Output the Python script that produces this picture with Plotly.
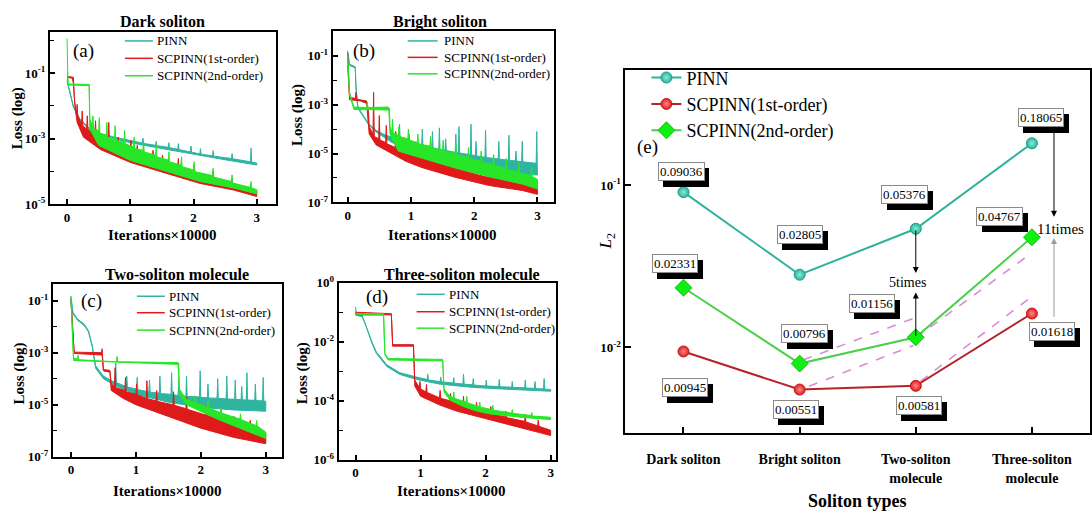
import numpy as np
import plotly.graph_objects as go

W, H = 1092, 518
FONT = "Liberation Serif, Times New Roman, serif"
TEAL = "#2fb4a0"
RED = "#de1a1a"
GREEN = "#27e627"

SERIES_NAMES = ["PINN", "SCPINN(1st-order)", "SCPINN(2nd-order)"]

# ---------------- Loss curves: (iterations x 10000, log10(loss)) ----------------
# lower outline (lo) and upper outline incl. spikes (hi) of each noisy curve
a_pinn_lo = [(0,-1.25),(0.05,-1.63),(0.1,-2.03),(0.2,-2.42),(0.35,-2.72),(0.5,-2.87),(0.75,-3.0),(1.0,-3.12),(1.5,-3.3),(2.0,-3.48),(2.5,-3.64),(3.0,-3.8)]
a_pinn_hi = [(0,-1.2),(0.05,-1.6),(0.1,-2.0),(0.2,-2.38),(0.35,-2.68),(0.5,-2.82),(0.75,-2.95),(1.0,-3.06),(1.19,-3.13),(1.2,-2.98),(1.21,-3.14),(1.4,-3.2),(1.41,-3.08),(1.42,-3.21),(1.6,-3.26),(1.61,-3.12),(1.62,-3.27),(1.75,-3.32),(1.76,-3.15),(1.77,-3.33),(1.95,-3.4),(1.96,-3.22),(1.97,-3.41),(2.1,-3.46),(2.11,-3.3),(2.12,-3.47),(2.3,-3.52),(2.31,-3.36),(2.32,-3.53),(2.6,-3.6),(2.61,-3.45),(2.62,-3.61),(2.9,-3.7),(2.91,-3.28),(2.92,-3.71),(3.0,-3.74)]
a_red_lo = [(0,-1.13),(0.08,-1.15),(0.1,-1.3),(0.13,-2.1),(0.16,-2.5),(0.26,-2.95),(0.53,-3.33),(1.0,-3.72),(1.58,-4.06),(2.1,-4.36),(2.63,-4.56),(3.0,-4.76)]
a_red_hi = [(0,-1.1),(0.1,-1.12),(0.12,-1.9),(0.15,-2.25),(0.16,-1.95),(0.17,-2.3),(0.23,-2.55),(0.24,-2.15),(0.25,-2.6),(0.31,-2.7),(0.32,-2.3),(0.33,-2.72),(0.44,-2.85),(0.45,-2.45),(0.46,-2.87),(0.65,-3.0),(0.66,-2.5),(0.67,-3.02),(0.8,-3.15),(0.81,-2.95),(0.82,-3.17),(1.0,-3.32),(1.01,-3.05),(1.02,-3.34),(1.1,-3.4),(1.11,-3.2),(1.12,-3.42),(1.35,-3.58),(1.36,-3.35),(1.37,-3.6),(1.5,-3.7),(1.51,-3.5),(1.52,-3.72),(1.75,-3.85),(1.76,-3.6),(1.77,-3.87),(2.0,-4.0),(2.01,-3.8),(2.02,-4.02),(2.3,-4.18),(2.31,-4.0),(2.32,-4.2),(2.6,-4.35),(2.61,-4.2),(2.62,-4.37),(3.0,-4.6)]
a_green_lo = [(0,-1.3),(0.02,-1.36),(0.35,-1.38),(0.36,-2.7),(0.5,-3.2),(1.0,-3.66),(1.58,-4.0),(2.1,-4.3),(2.63,-4.5),(3.0,-4.68)]
a_green_hi = [(0,0.06),(0.01,-0.9),(0.02,-1.33),(0.35,-1.34),(0.36,-2.4),(0.4,-2.6),(0.41,-2.3),(0.42,-2.7),(0.5,-2.75),(0.51,-2.35),(0.52,-2.85),(0.62,-2.9),(0.63,-2.5),(0.64,-2.95),(0.75,-3.0),(0.76,-2.6),(0.77,-3.05),(0.9,-3.1),(0.91,-2.75),(0.92,-3.15),(1.05,-3.25),(1.06,-2.95),(1.07,-3.3),(1.2,-3.35),(1.21,-3.05),(1.22,-3.4),(1.4,-3.5),(1.41,-3.2),(1.42,-3.55),(1.6,-3.65),(1.61,-3.4),(1.62,-3.7),(1.8,-3.8),(1.81,-3.55),(1.82,-3.85),(2.0,-3.95),(2.01,-3.7),(2.02,-4.0),(2.3,-4.12),(2.31,-3.9),(2.32,-4.17),(2.6,-4.3),(2.61,-4.1),(2.62,-4.35),(2.9,-4.48),(2.91,-4.3),(2.92,-4.5),(3.0,-4.55)]

b_pinn_lo = [(0,-0.87),(0.03,-1.4),(0.12,-1.5),(0.13,-2.3),(0.16,-3.15),(0.21,-3.35),(0.34,-3.85),(0.45,-4.12),(0.7,-4.55),(1.0,-4.9),(1.5,-5.35),(2.0,-5.6),(2.5,-5.78),(3.0,-5.88)]
b_pinn_hi = [(0,-0.8),(0.03,-1.35),(0.12,-1.45),(0.13,-2.2),(0.16,-3.05),(0.21,-3.3),(0.34,-3.8),(0.45,-4.05),(0.6,-4.25),(0.81,-4.4),(0.82,-3.8),(0.83,-4.42),(0.96,-4.5),(0.97,-4.2),(0.98,-4.55),(1.17,-4.65),(1.18,-4.0),(1.19,-4.67),(1.33,-4.75),(1.34,-4.1),(1.35,-4.77),(1.44,-4.82),(1.45,-3.95),(1.46,-4.83),(1.54,-4.87),(1.55,-4.4),(1.56,-4.88),(1.7,-4.95),(1.71,-4.2),(1.72,-4.96),(1.75,-4.97),(1.76,-3.9),(1.77,-4.98),(1.94,-5.05),(1.95,-3.8),(1.96,-5.06),(2.02,-5.08),(2.03,-4.5),(2.04,-5.1),(2.17,-5.15),(2.18,-4.05),(2.19,-5.16),(2.38,-5.22),(2.39,-4.5),(2.4,-5.23),(2.54,-5.27),(2.55,-4.25),(2.56,-5.28),(2.65,-5.3),(2.66,-4.9),(2.67,-5.31),(2.75,-5.33),(2.76,-4.5),(2.77,-5.34),(2.98,-5.4),(2.99,-4.1),(3.0,-5.45)]
b_red_lo = [(0,-1.4),(0.03,-2.8),(0.2,-2.85),(0.3,-2.95),(0.34,-4.2),(0.45,-4.65),(0.66,-4.95),(0.92,-5.32),(1.18,-5.58),(1.71,-5.98),(2.24,-6.31),(2.76,-6.51),(3.0,-6.67)]
b_red_hi = [(0,-0.9),(0.01,-1.3),(0.03,-2.7),(0.12,-2.75),(0.13,-2.5),(0.14,-2.78),(0.2,-2.8),(0.3,-2.85),(0.33,-3.3),(0.34,-3.9),(0.4,-4.2),(0.41,-2.5),(0.42,-4.3),(0.49,-4.4),(0.5,-3.45),(0.51,-4.45),(0.6,-4.55),(0.61,-3.85),(0.62,-4.6),(0.75,-4.75),(0.76,-4.1),(0.77,-4.8),(0.96,-5.0),(0.97,-4.4),(0.98,-5.05),(1.3,-5.3),(1.31,-4.8),(1.32,-5.32),(1.7,-5.6),(1.71,-5.1),(1.72,-5.62),(2.1,-5.9),(2.11,-5.4),(2.12,-5.92),(2.5,-6.1),(2.51,-5.7),(2.52,-6.12),(2.8,-6.25),(2.81,-5.85),(2.82,-6.27),(3.0,-6.4)]
b_green_lo = [(0,-1.3),(0.03,-2.6),(0.07,-2.95),(0.1,-3.2),(0.65,-3.22),(0.67,-4.2),(0.8,-4.9),(1.18,-5.2),(1.71,-5.6),(2.24,-5.95),(2.76,-6.25),(3.0,-6.45)]
b_green_hi = [(0,-0.95),(0.03,-2.5),(0.07,-2.85),(0.1,-3.1),(0.3,-3.12),(0.31,-2.9),(0.32,-3.12),(0.64,-3.1),(0.66,-3.15),(0.67,-3.9),(0.7,-4.1),(0.71,-3.6),(0.72,-4.15),(0.8,-4.25),(0.81,-3.9),(0.82,-4.3),(0.95,-4.4),(0.96,-4.0),(0.97,-4.45),(1.1,-4.55),(1.11,-4.2),(1.12,-4.6),(1.3,-4.7),(1.31,-4.3),(1.32,-4.75),(1.5,-4.85),(1.51,-4.45),(1.52,-4.9),(1.7,-5.0),(1.71,-4.6),(1.72,-5.05),(1.9,-5.15),(1.91,-4.75),(1.92,-5.2),(2.1,-5.3),(2.11,-4.9),(2.12,-5.35),(2.3,-5.45),(2.31,-5.05),(2.32,-5.5),(2.5,-5.6),(2.51,-5.2),(2.52,-5.65),(2.7,-5.75),(2.71,-5.4),(2.72,-5.8),(2.9,-5.9),(2.91,-5.55),(2.92,-5.95),(3.0,-6.05)]

c_pinn_lo = [(0,-0.88),(0.03,-1.5),(0.1,-1.75),(0.2,-1.95),(0.27,-2.2),(0.33,-2.8),(0.38,-3.6),(0.5,-4.0),(0.7,-4.3),(1.0,-4.6),(1.5,-4.9),(2.0,-5.1),(2.5,-5.2),(3.0,-5.25)]
c_pinn_hi = [(0,-0.82),(0.03,-1.45),(0.1,-1.7),(0.2,-1.9),(0.27,-2.15),(0.33,-2.75),(0.38,-3.5),(0.5,-3.9),(0.68,-4.15),(0.69,-3.4),(0.7,-4.15),(0.85,-4.3),(0.86,-3.9),(0.87,-4.32),(1.01,-4.4),(1.02,-3.95),(1.03,-4.42),(1.2,-4.5),(1.21,-4.05),(1.22,-4.52),(1.36,-4.55),(1.37,-3.9),(1.38,-4.57),(1.54,-4.6),(1.55,-3.77),(1.56,-4.62),(1.65,-4.64),(1.66,-4.1),(1.67,-4.65),(1.77,-4.67),(1.78,-3.9),(1.79,-4.68),(1.98,-4.7),(1.99,-3.7),(2.0,-4.72),(2.1,-4.73),(2.11,-4.2),(2.12,-4.74),(2.25,-4.75),(2.26,-4.0),(2.27,-4.76),(2.39,-4.77),(2.4,-3.9),(2.41,-4.78),(2.52,-4.79),(2.53,-4.05),(2.54,-4.8),(2.62,-4.8),(2.63,-4.3),(2.64,-4.81),(2.7,-4.82),(2.71,-3.77),(2.72,-4.82),(2.83,-4.83),(2.84,-4.2),(2.85,-4.84),(2.95,-4.85),(2.96,-3.95),(2.97,-4.86),(3.0,-4.87)]
c_red_lo = [(0,-1.0),(0.05,-3.03),(0.48,-3.09),(0.5,-3.7),(0.6,-3.75),(0.62,-4.45),(0.8,-4.75),(1.0,-5.0),(1.5,-5.45),(2.0,-5.9),(2.5,-6.25),(3.0,-6.5)]
c_red_hi = [(0,-0.95),(0.05,-2.98),(0.47,-3.0),(0.48,-2.85),(0.49,-3.05),(0.5,-3.65),(0.6,-3.68),(0.62,-4.2),(0.67,-4.3),(0.68,-3.58),(0.69,-4.35),(0.83,-4.45),(0.84,-3.95),(0.85,-4.5),(1.0,-4.6),(1.01,-4.2),(1.02,-4.62),(1.16,-4.75),(1.17,-4.08),(1.18,-4.77),(1.31,-4.85),(1.32,-4.45),(1.33,-4.87),(1.57,-5.0),(1.58,-4.5),(1.59,-5.02),(1.77,-5.15),(1.78,-4.7),(1.79,-5.17),(2.08,-5.4),(2.09,-5.05),(2.1,-5.42),(2.3,-5.55),(2.31,-5.2),(2.32,-5.57),(2.5,-5.7),(2.51,-5.45),(2.52,-5.72),(2.75,-5.9),(2.76,-5.6),(2.77,-5.92),(3.0,-6.1)]
c_green_lo = [(0,-0.9),(0.04,-3.3),(1.65,-3.45),(1.67,-4.6),(1.78,-5.0),(2.0,-5.25),(2.25,-5.55),(2.5,-5.8),(2.75,-6.05),(3.0,-6.3)]
c_green_hi = [(0,-0.85),(0.04,-3.2),(0.1,-3.25),(0.11,-3.1),(0.12,-3.27),(0.3,-3.3),(0.7,-3.35),(0.71,-3.15),(0.72,-3.35),(1.64,-3.38),(1.66,-3.4),(1.67,-4.4),(1.78,-4.8),(1.9,-4.9),(1.91,-4.65),(1.92,-4.92),(2.1,-5.1),(2.11,-4.85),(2.12,-5.12),(2.3,-5.3),(2.31,-5.1),(2.32,-5.32),(2.6,-5.55),(2.61,-5.35),(2.62,-5.57),(2.85,-5.8),(2.86,-5.6),(2.87,-5.82),(3.0,-6.05)]

d_pinn_lo = [(0,-1.1),(0.1,-1.15),(0.17,-1.53),(0.25,-2.05),(0.32,-2.4),(0.48,-2.84),(0.68,-3.11),(0.94,-3.28),(1.3,-3.44),(1.81,-3.55),(2.32,-3.61),(3.0,-3.68)]
d_pinn_hi = [(0,-0.82),(0.01,-1.05),(0.1,-1.1),(0.17,-1.48),(0.25,-2.0),(0.32,-2.35),(0.48,-2.78),(0.68,-3.05),(0.94,-3.2),(1.1,-3.28),(1.11,-3.1),(1.12,-3.3),(1.3,-3.35),(1.31,-3.2),(1.32,-3.36),(1.5,-3.4),(1.51,-3.22),(1.52,-3.41),(1.65,-3.43),(1.66,-3.1),(1.67,-3.44),(1.8,-3.46),(1.81,-3.25),(1.82,-3.47),(2.0,-3.5),(2.01,-3.3),(2.02,-3.5),(2.2,-3.52),(2.21,-3.28),(2.22,-3.53),(2.4,-3.54),(2.41,-3.35),(2.42,-3.55),(2.6,-3.56),(2.61,-3.3),(2.62,-3.57),(2.75,-3.58),(2.76,-3.35),(2.77,-3.59),(2.89,-3.6),(2.9,-3.25),(2.91,-3.61),(3.0,-3.62)]
d_red_lo = [(0,-1.04),(0.02,-1.09),(0.55,-1.09),(0.57,-2.15),(0.89,-2.15),(0.91,-3.5),(1.0,-3.85),(1.3,-4.15),(1.55,-4.35),(2.07,-4.65),(2.58,-4.92),(3.0,-5.18)]
d_red_hi = [(0,-1.0),(0.55,-1.05),(0.57,-2.1),(0.89,-2.1),(0.91,-3.3),(0.98,-3.55),(0.99,-3.35),(1.0,-3.6),(1.08,-3.7),(1.09,-3.45),(1.1,-3.72),(1.29,-3.9),(1.3,-3.65),(1.31,-3.92),(1.45,-4.0),(1.46,-3.75),(1.47,-4.02),(1.65,-4.15),(1.66,-3.85),(1.67,-4.17),(1.85,-4.3),(1.86,-4.05),(1.87,-4.32),(2.07,-4.42),(2.08,-4.2),(2.09,-4.44),(2.3,-4.55),(2.31,-4.35),(2.32,-4.57),(2.6,-4.7),(2.61,-4.45),(2.62,-4.72),(2.8,-4.85),(2.81,-4.65),(2.82,-4.87),(3.0,-5.0)]
d_green_lo = [(0,-1.09),(0.43,-1.09),(0.45,-2.45),(0.5,-2.62),(1.34,-2.65),(1.36,-3.7),(1.45,-3.98),(1.66,-4.2),(1.86,-4.35),(2.07,-4.45),(2.58,-4.57),(3.0,-4.64)]
d_green_hi = [(0,-1.04),(0.43,-1.05),(0.45,-2.4),(0.5,-2.57),(1.34,-2.6),(1.36,-3.6),(1.45,-3.85),(1.5,-3.9),(1.51,-3.7),(1.52,-3.92),(1.7,-4.05),(1.71,-3.85),(1.72,-4.07),(1.9,-4.2),(1.91,-4.05),(1.92,-4.22),(2.1,-4.3),(2.11,-4.15),(2.12,-4.32),(2.4,-4.42),(2.41,-4.3),(2.42,-4.43),(2.7,-4.5),(2.71,-4.4),(2.72,-4.52),(3.0,-4.56)]

panel_titles = ["Dark soliton", "Bright soliton", "Two-soliton molecule", "Three-soliton molecule"]
panel_tags = ["(a)", "(b)", "(c)", "(d)"]

# ---------------- Panel (e): L2 errors ----------------
soliton_types = ["Dark soliton", "Bright soliton", "Two-soliton<br>molecule", "Three-soliton<br>molecule"]
l2_pinn = [0.09036, 0.02805, 0.05376, 0.18065]
l2_first = [0.00945, 0.00551, 0.00581, 0.01618]
l2_second = [0.02331, 0.00796, 0.01156, 0.04767]
# dashed trend guide segments (category position, L2)
guide_x = [(1.03, 2.0), (1.08, 1.98), (2.04, 2.97), (2.0, 3.0)]
guide_y = [(0.00837, 0.0153), (0.00578, 0.01028), (0.00619, 0.01985), (0.01148, 0.0383)]

fig = go.Figure()

def px_x(p):
    return p / W

def px_y(p):
    return 1 - p / H

def band(lo, hi):
    xs = [p[0] for p in lo] + [p[0] for p in hi][::-1]
    ys = [10.0 ** p[1] for p in lo] + [10.0 ** p[1] for p in hi][::-1]
    return xs, ys

panels = [
    (a_pinn_lo, a_pinn_hi, a_red_lo, a_red_hi, a_green_lo, a_green_hi),
    (b_pinn_lo, b_pinn_hi, b_red_lo, b_red_hi, b_green_lo, b_green_hi),
    (c_pinn_lo, c_pinn_hi, c_red_lo, c_red_hi, c_green_lo, c_green_hi),
    (d_pinn_lo, d_pinn_hi, d_red_lo, d_red_hi, d_green_lo, d_green_hi),
]
colors = [TEAL, RED, GREEN]

for k, pan in enumerate(panels):
    xa = "x" if k == 0 else f"x{k+1}"
    ya = "y" if k == 0 else f"y{k+1}"
    for s in range(3):
        bx, by = band(pan[2 * s], pan[2 * s + 1])
        fig.add_trace(go.Scatter(x=bx, y=by, mode="lines", fill="toself", name=SERIES_NAMES[s],
                                 fillcolor=colors[s], line=dict(color=colors[s], width=1),
                                 showlegend=False, hoverinfo="skip", xaxis=xa, yaxis=ya))

# panel (e)
for i in range(len(guide_x)):
    fig.add_trace(go.Scatter(x=list(guide_x[i]), y=list(guide_y[i]), mode="lines",
                             line=dict(color="#d68fd6", width=1.6, dash="dash"),
                             showlegend=False, hoverinfo="skip", xaxis="x5", yaxis="y5"))

xcat = list(range(len(soliton_types)))
fig.add_trace(go.Scatter(x=xcat, y=l2_pinn, mode="lines+markers", name="PINN",
                         line=dict(color="#30b29c", width=2),
                         marker=dict(symbol="circle", size=11, color="#25b89c",
                                     gradient=dict(type="radial", color="#8fe8d8"),
                                     line=dict(color="#1f9c86", width=1)),
                         xaxis="x5", yaxis="y5"))
fig.add_trace(go.Scatter(x=xcat, y=l2_first, mode="lines+markers", name="SCPINN(1st-order)",
                         line=dict(color="#b52328", width=2),
                         marker=dict(symbol="circle", size=11, color="#e01c1c",
                                     gradient=dict(type="radial", color="#ff8a8a"),
                                     line=dict(color="#c01a1a", width=1)),
                         xaxis="x5", yaxis="y5"))
fig.add_trace(go.Scatter(x=xcat, y=l2_second, mode="lines+markers", name="SCPINN(2nd-order)",
                         line=dict(color="#4ccf4c", width=2),
                         marker=dict(symbol="diamond", size=13, color="#11ee11",
                                     line=dict(color="#10c010", width=1)),
                         xaxis="x5", yaxis="y5"))

# ---------------- axes ----------------
def sup(e):
    return f"<b>10<sup>{e}</sup></b>"

loss_cfg = [
    # x px domain, y px domain (top, bottom), x range, y log range, labelled exps, minor exps
    ((50, 276), (24, 202), [-0.27, 3.30], [-5, 0.25], [-1, -3, -5], [0, -2, -4]),
    ((333, 555), (23, 200), [-0.237, 3.27], [-7, 0], [-1, -3, -5, -7], [-2, -4, -6]),
    ((53, 282), (284, 463), [-0.277, 3.246], [-7, -0.35], [-1, -3, -5, -7], [-2, -4, -6]),
    ((339, 557), (283, 466), [-0.26, 3.09], [-6, 0], [0, -2, -4, -6], [-1, -3, -5]),
]
tickfont = dict(family=FONT, size=13, color="black")
for k, (xd, yd, xr, yr, labs, mins) in enumerate(loss_cfg):
    xk = "xaxis" if k == 0 else f"xaxis{k+1}"
    yk = "yaxis" if k == 0 else f"yaxis{k+1}"
    ya = "y" if k == 0 else f"y{k+1}"
    xa = "x" if k == 0 else f"x{k+1}"
    fig.layout[xk] = dict(domain=[px_x(xd[0]), px_x(xd[1])], range=xr, anchor=ya,
                          tickvals=[0, 1, 2, 3], ticktext=["<b>0</b>", "<b>1</b>", "<b>2</b>", "<b>3</b>"],
                          ticks="inside", ticklen=5, tickwidth=1.5, tickcolor="black",
                          showline=True, linewidth=2, linecolor="black", mirror=True,
                          showgrid=False, zeroline=False, tickfont=dict(family=FONT, size=13, color="black"))
    fig.layout[yk] = dict(domain=[px_y(yd[1]), px_y(yd[0])], range=yr, type="log", anchor=xa,
                          tickvals=[10.0 ** e for e in labs], ticktext=[sup(e) for e in labs],
                          ticks="inside", ticklen=5, tickwidth=1.5, tickcolor="black",
                          minor=dict(tickvals=[10.0 ** e for e in mins], ticks="inside", ticklen=4,
                                     tickwidth=1.2, tickcolor="black", showgrid=False),
                          showline=True, linewidth=2, linecolor="black", mirror=True,
                          showgrid=False, zeroline=False, tickfont=tickfont)

fig.layout["xaxis5"] = dict(domain=[px_x(626), px_x(1091)], range=[-0.5, 3.5], anchor="y5",
                            tickvals=xcat, ticktext=[f"<b>{t}</b>" for t in soliton_types],
                            ticks="inside", ticklen=6, tickwidth=1.5, tickcolor="black",
                            showline=True, linewidth=2, linecolor="black", mirror=True,
                            showgrid=False, zeroline=False, ticklabelstandoff=13,
                            tickfont=dict(family=FONT, size=14, color="black"))
fig.layout["yaxis5"] = dict(domain=[px_y(438), px_y(63)], range=[-2.524, -0.292], type="log", anchor="x5",
                            tickvals=[0.1, 0.01], ticktext=[sup(-1), sup(-2)],
                            ticks="inside", ticklen=6, tickwidth=1.5, tickcolor="black",
                            showline=True, linewidth=2, linecolor="black", mirror=True,
                            showgrid=False, zeroline=False, tickfont=tickfont)

fig.update_layout(
    showlegend=True,
    legend=dict(x=px_x(647), y=px_y(52), xanchor="left", yanchor="top",
                bgcolor="rgba(0,0,0,0)", borderwidth=0, tracegroupgap=0,
                font=dict(family=FONT, size=18, color="black")),
)

# ---------------- annotations ----------------
ann = []
shapes = []

def text_ann(txt, xpx, ypx, size, angle=0, xanchor="center"):
    ann.append(dict(text=txt, x=px_x(xpx), y=px_y(ypx), xref="paper", yref="paper",
                    showarrow=False, xanchor=xanchor, yanchor="middle", textangle=angle,
                    font=dict(family=FONT, size=size, color="black")))

# legends of the loss panels: (line start px, line end px, text start px, row y px)
legend_rows = [
    (125, 153, 155, [33, 51, 69]),
    (408, 438, 442, [33, 50, 67]),
    (137, 165, 167, [297, 314, 332]),
    (417, 445, 447, [295, 313, 330]),
]
for (l0, l1, tx, rows) in legend_rows:
    for s in range(3):
        shapes.append(dict(type="line", xref="paper", yref="paper",
                           x0=px_x(l0), x1=px_x(l1), y0=px_y(rows[s]), y1=px_y(rows[s]),
                           line=dict(color=colors[s], width=1.5)))
        text_ann(SERIES_NAMES[s], tx, rows[s], 13, xanchor="left")

title_pos = [(163, 13), (440, 13), (177, 275), (462, 275)]
for t, (xp, yp) in zip(panel_titles, title_pos):
    text_ann(f"<b>{t}</b>", xp, yp, 16)
for (xp, yp) in [(17, 113), (298, 110), (20, 377), (303, 377)]:
    text_ann("<b>Loss (log)</b>", xp, yp, 15, -90)
for (xp, yp) in [(163, 234), (443, 234), (168, 498), (452, 498)]:
    text_ann("<b>Iterations×10000</b>", xp, yp, 15)
for t, (xp, yp) in zip(panel_tags + ["(e)"], [(84, 43), (364, 43), (92, 302), (377, 298), (648, 143)]):
    text_ann(t, xp, yp, 19)
text_ann("<b>Soliton types</b>", 858, 509, 18)
text_ann("<i>L</i><sub>2</sub>", 608, 240, 17, -90)

# value boxes with drop shadow: (series values, per-point x-offset px, y-offset px)
box_offsets = [
    (l2_pinn, [(-2, 21), (0, 40), (-11, 34), (9, 26)]),
    (l2_first, [(2, -36), (-4, -20), (3, -20), (20, -18)]),
    (l2_second, [(-8, 24), (5, 30), (-44, 34), (-32, 21)]),
]
blank = str.maketrans("0123456789.", "\u2007" * 10 + "\u2008")
for vals, offs in box_offsets:
    for i, v in enumerate(vals):
        dx, dy = offs[i]
        txt = f"{v:.5f}"
        common = dict(x=i, y=float(np.log10(v)), xref="x5", yref="y5",
                      showarrow=False, borderpad=1, borderwidth=1)
        # shadow: same-size box filled black, holding only blank spaces
        ann.append(dict(common, text=txt.translate(blank), xshift=dx + 5, yshift=dy - 6,
                        bgcolor="black", bordercolor="black",
                        font=dict(family=FONT, size=13, color="black")))
        ann.append(dict(common, text=txt, xshift=dx, yshift=dy, bgcolor="white",
                        bordercolor="#8a8a8a", font=dict(family=FONT, size=13, color="black")))

def arrow(x, yhead, ytail, color="black"):
    ann.append(dict(text="", x=x, y=yhead, ax=x, ay=ytail, xref="x5", yref="y5",
                    axref="x5", ayref="y5", showarrow=True, arrowhead=2, arrowsize=1.2,
                    arrowwidth=1, arrowcolor=color))

arrow(2, -1.542, float(np.log10(l2_pinn[2])))
arrow(2, -1.661, float(np.log10(l2_second[2])))
arrow(3.19, -1.196, -0.649)
arrow(3.19, -1.327, -1.821, "#9a9a9a")
ann.append(dict(text="5times", x=2, y=-1.601, xref="x5", yref="y5", xshift=-8, showarrow=False,
                font=dict(family=FONT, size=14, color="black")))
ann.append(dict(text="11times", x=3.25, y=-1.268, xref="x5", yref="y5", showarrow=False,
                font=dict(family=FONT, size=15, color="black")))

fig.update_layout(annotations=ann, shapes=shapes, width=W, height=H,
                  margin=dict(l=0, r=0, t=0, b=0),
                  paper_bgcolor="white", plot_bgcolor="white",
                  font=dict(family=FONT, color="black"))

fig.write_html("out.html")
